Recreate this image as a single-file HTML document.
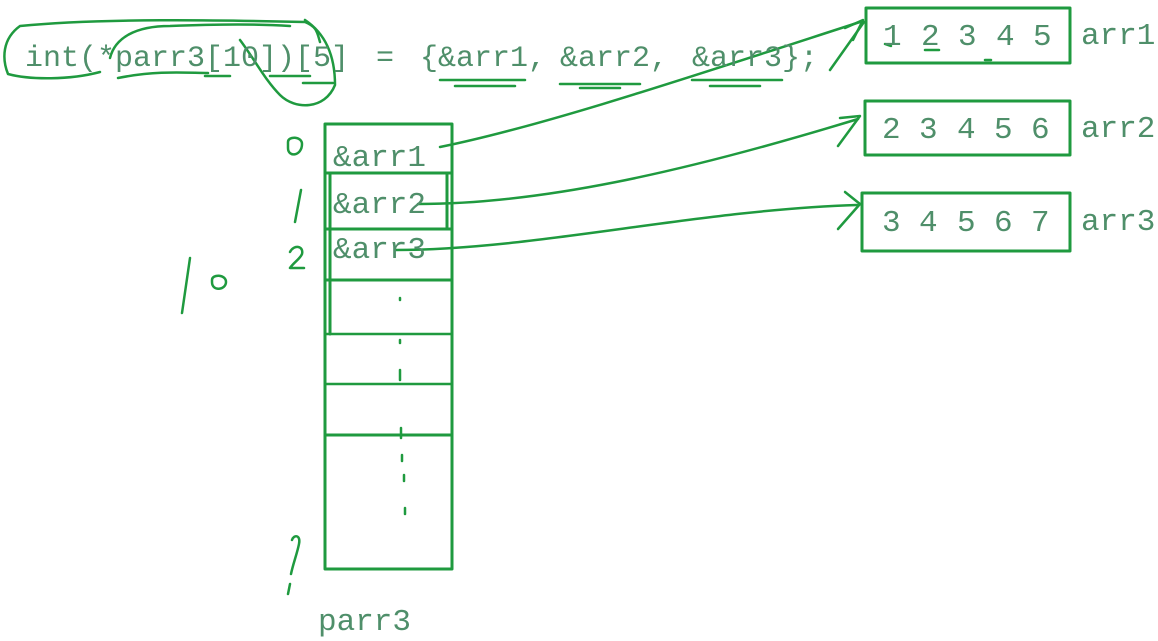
<!DOCTYPE html>
<html><head><meta charset="utf-8"><style>
html,body{margin:0;padding:0;background:#fff;width:1158px;height:641px;overflow:hidden}
svg{display:block}
text{font-family:"Liberation Mono",monospace;fill:#4f8f6a}
</style></head><body>
<svg width="1158" height="641" viewBox="0 0 1158 641">
<g fill="none" stroke="#1f9a3f" stroke-width="2.5" stroke-linecap="round" stroke-linejoin="round">
<rect x="866" y="8" width="204" height="55" stroke-width="3"/>
<rect x="865" y="101" width="205" height="54" stroke-width="3"/>
<rect x="862" y="193" width="208" height="58" stroke-width="3"/>
<rect x="325" y="124" width="127" height="445" stroke-width="3"/>
<line x1="325" y1="173" x2="452" y2="173" stroke-width="3"/>
<line x1="325" y1="229" x2="452" y2="229" stroke-width="3"/>
<line x1="325" y1="280" x2="452" y2="280" stroke-width="3"/>
<line x1="325" y1="334" x2="452" y2="334" stroke-width="2.5"/>
<line x1="325" y1="384" x2="452" y2="384" stroke-width="2.5"/>
<line x1="325" y1="435" x2="452" y2="435" stroke-width="3"/>
<line x1="330" y1="173" x2="330" y2="334" stroke-width="3"/>
<line x1="447" y1="173" x2="447" y2="229" stroke-width="3"/>
<path d="M400 298v2M400 340v3M400 370v10M401 428v10M402 455v6M404 475v6M405 508v6"/>
<path d="M288 142c0-6 14-6 14 2c0 12-14 14-14 4z"/>
<path d="M301 190l-6 32"/>
<path d="M290 252c4-8 14-6 12 2c-2 5-8 8-12 14h14"/>
<path d="M190 258l-8 55M212 280c0-6 14-6 14 2c0 8-14 10-14 0z"/>
<path d="M292 540c2-6 9-5 7 4c-2 10-6 20-8 30M290 584l-2 10"/>
<path d="M440 147c100-20 250-70 420-125"/>
<path d="M845 28l18-8-10 20"/>
<path d="M418 204c120 0 260-30 440-85"/>
<path d="M840 118l20-2-22 30"/>
<path d="M395 250c140 0 300-40 462-45"/>
<path d="M845 192l15 12-22 25"/>
<path d="M830 70l34-48"/>
<path d="M100 72c-30 8-70 8-92 2c-6-15-6-35 12-48c80-8 200-6 285-4c12 5 12 10 15 20"/>
<path d="M110 58c5-20 25-32 60-32c50-2 90-2 120 0"/>
<path d="M305 20c30 20 30 55 30 65c-10 25-40 25-55 10c-15-15-25-35-40-55"/>
<path d="M118 78c40-8 70-5 90-5"/>
<path d="M205 76h25M270 76h40M303 83h30"/>
<path d="M440 80h85M455 86h60M560 84h80M580 88h40M692 80h90M710 86h50"/>
<path d="M885 44l6 2M925 50h14M985 60h6"/>
</g>
<g font-size="30">
<text x="25" y="66">int(*parr3[10])[5]</text>
<text x="376" y="66">=</text>
<text x="420" y="66">{&amp;arr1,</text>
<text x="560" y="66">&amp;arr2,</text>
<text x="692" y="66">&amp;arr3};</text>
</g>
<g font-size="31">
<text x="883" y="45">1</text><text x="921" y="45">2</text><text x="958" y="45">3</text><text x="996" y="45">4</text><text x="1033" y="45">5</text>
<text x="882" y="138">2</text><text x="919" y="138">3</text><text x="957" y="138">4</text><text x="994" y="138">5</text><text x="1031" y="138">6</text>
<text x="882" y="231">3</text><text x="919" y="231">4</text><text x="957" y="231">5</text><text x="994" y="231">6</text><text x="1031" y="231">7</text>
<text x="1081" y="44">arr1</text>
<text x="1081" y="137">arr2</text>
<text x="1081" y="230">arr3</text>
<text x="333" y="166">&amp;arr1</text>
<text x="333" y="213">&amp;arr2</text>
<text x="333" y="258">&amp;arr3</text>
<text x="318" y="630">parr3</text>
</g>
</svg>
</body></html>
